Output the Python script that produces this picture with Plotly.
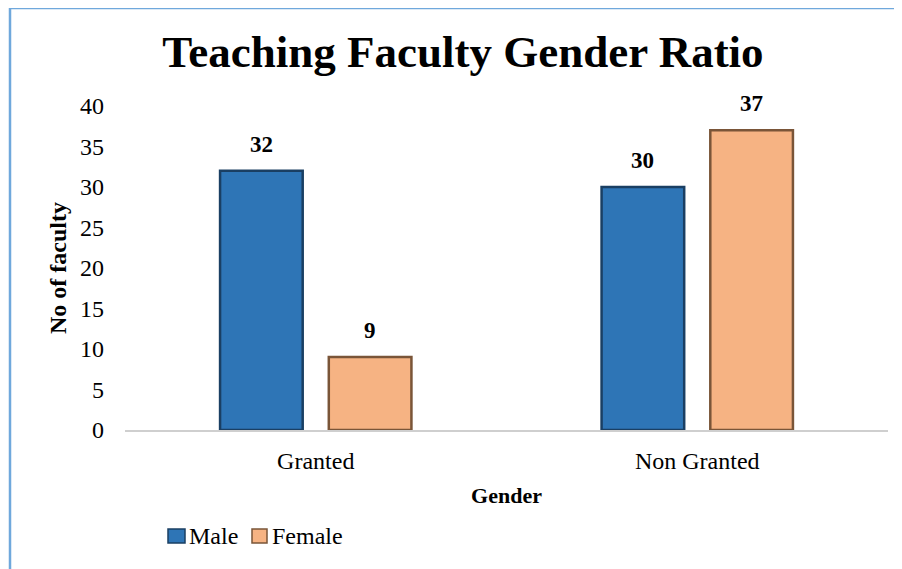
import plotly.graph_objects as go

categories = ["Granted", "Non Granted"]
male = [32, 30]
female = [9, 37]
series_names = ["Male", "Female"]
title_text = "Teaching Faculty Gender Ratio"
y_ticks = [0, 5, 10, 15, 20, 25, 30, 35, 40]

# the page body has an 8px margin, so the figure is drawn at (8, 8)
OFF = 8
W, H = 902 - OFF, 569 - OFF
# plot area in screen pixels: x 125..888, y 106..430
ML = 125 - OFF
MT = 106 - OFF
MR = (W + OFF) - 888
MB = (H + OFF) - 430
pw = W - ML - MR
ph = H - MT - MB

font_family = "Liberation Serif, Times New Roman, serif"
colors = ["#2e75b6", "#f6b383"]
edges = ["#1a3f63", "#7a5538"]
BARGAP, GROUPGAP = 0.43, 0.24

def px_x(sx):
    return (sx - OFF - ML) / pw

def px_y(sy):
    return (H - MB - (sy - OFF)) / ph

fig = go.Figure()
for name, vals, c, e in zip(series_names, [male, female], colors, edges):
    fig.add_trace(go.Bar(
        name=name, x=categories, y=vals,
        marker=dict(color=c, line=dict(color=e, width=2.5)),
        cliponaxis=False, showlegend=False,
    ))

# value labels, placed through the axes at each bar's centre
slot = (1 - BARGAP) / 2
offsets = [-slot / 2, slot / 2]
for s, vals in enumerate([male, female]):
    for i, v in enumerate(vals):
        fig.add_annotation(
            x=i + offsets[s], y=v,
            xref="x", yref="y", text=f"<b>{v}</b>", showarrow=False,
            yanchor="bottom", yshift=12,
            font=dict(family=font_family, size=23, color="black"),
        )

# decorative frame (left and top edge)
xl = px_x(10)
yt = px_y(8)
fig.add_shape(type="line", xref="paper", yref="paper", x0=xl, x1=xl, y0=yt, y1=-2,
              line=dict(color="#6fa8dc", width=2.5))
fig.add_shape(type="line", xref="paper", yref="paper", x0=xl, x1=2, y0=yt, y1=yt,
              line=dict(color="#6fa8dc", width=2.5))

# custom legend: swatches + labels
legend_items = [(168, 185, 187), (252, 267, 270)]
ly = 536
for (sx0, sx1, tx), name, c, e in zip(legend_items, series_names, colors, edges):
    fig.add_shape(type="rect", xref="paper", yref="paper",
                  x0=px_x(sx0), x1=px_x(sx1), y0=px_y(ly + 7), y1=px_y(ly - 7),
                  fillcolor=c, line=dict(color=e, width=1.5))
    fig.add_annotation(xref="paper", yref="paper", x=px_x(tx), y=px_y(ly),
                       xanchor="left", yanchor="middle", text=name, showarrow=False,
                       font=dict(family=font_family, size=24, color="black"))

fig.update_layout(
    width=W, height=H,
    margin=dict(l=ML, r=MR, t=MT, b=MB, autoexpand=False),
    paper_bgcolor="white", plot_bgcolor="white",
    barmode="group", bargap=BARGAP, bargroupgap=GROUPGAP,
    title=dict(text=title_text, x=(463 - OFF) / W, xanchor="center",
               y=1 - (51 - OFF) / H, yanchor="middle",
               font=dict(family=font_family, size=45, color="black", weight="bold")),
    font=dict(family=font_family, size=24, color="black"),
    xaxis=dict(
        title=dict(text="Gender", font=dict(family=font_family, size=22, weight="bold"), standoff=15),
        showline=True, linecolor="#cfcfcf", linewidth=1.5, ticks="",
        tickfont=dict(size=24), showgrid=False, automargin=False,
        range=[-0.5, 1.5], ticklabelstandoff=8,
    ),
    yaxis=dict(
        title=dict(text="No of faculty", font=dict(family=font_family, size=24, weight="bold"), standoff=6),
        range=[0, 40], tickvals=y_ticks, showgrid=False, zeroline=False, showline=False,
        tickfont=dict(size=24), ticks="", ticklabelstandoff=20, automargin=False,
    ),
    showlegend=False,
)

fig.write_html("out.html")
